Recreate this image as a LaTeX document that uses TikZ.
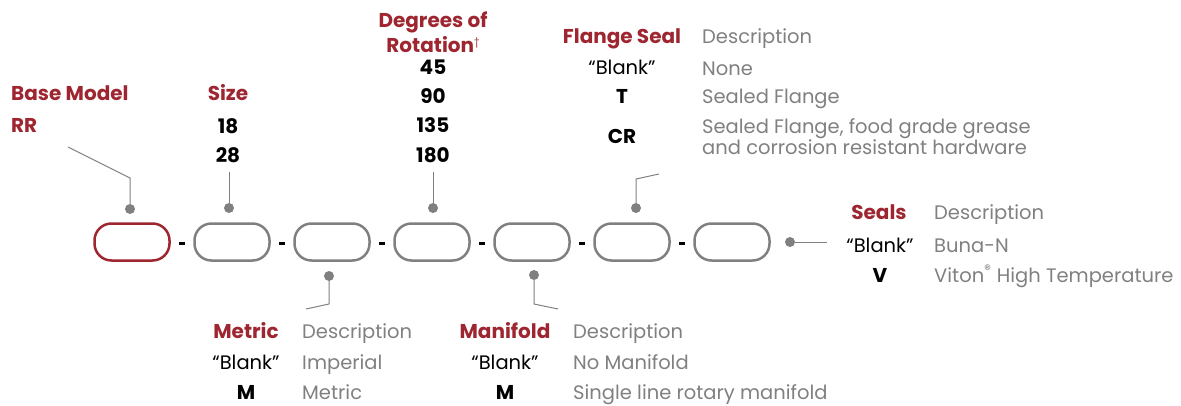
\documentclass[tikz,border=0pt]{standalone}
\usepackage{fontspec}
\setmainfont{Poppins}
\definecolor{codered}{RGB}{158,38,48}
\definecolor{codegray}{RGB}{128,128,128}
\tikzset{
	pill/.style={draw=codegray, line width=2.5pt, rounded corners=17pt, minimum width=75pt, minimum height=37pt},
	hyph/.style={fill=black, inner sep=0pt, minimum width=6pt, minimum height=3pt},
	dot/.style={circle, fill=codegray, inner sep=0pt, minimum size=10pt},
	leader/.style={draw=codegray, line width=1pt},
	head/.style={font=\fontsize{20}{22}\selectfont\bfseries, text=codered, inner sep=0pt, anchor=base},
	val/.style={font=\fontsize{20}{22}\selectfont\bfseries, inner sep=0pt, anchor=base},
	blank/.style={font=\fontsize{19.5}{22}\selectfont, inner sep=0pt, anchor=base},
	desc/.style={font=\fontsize{19.5}{22}\selectfont, text=codegray, inner sep=0pt, anchor=base west},
}

\begin{document}
\begin{tikzpicture}[x=1pt,y=-1pt]
				\useasboundingbox (0,0) rectangle (1181,405);
				% part number boxes
				\node [pill, draw=codered] (p1) at (132,242) {};
				\foreach \i in {2,...,7}
					\node [pill] (p\i) at ({132+100*(\i-1)},242) {};
				\foreach \i in {1,...,6}
					\node [hyph] (h\i) at ({182+100*(\i-1)},243) {};
				% base model
				\node [head, anchor=base west] (basehead) at (11,100) {Base Model};
				\node [head, anchor=base west] (baseval) at (11,132) {RR};
				\node [dot] (dbase) at (130,209) {};
				\coordinate (cbase1) at (130,178);
				\coordinate (cbase2) at (68,147);
				\draw [leader] (dbase) -- (cbase1) -- (cbase2);
				% size
				\node [head] (sizehead) at (228,100) {Size};
				\node [val] (size18) at (228,133) {18};
				\node [val] (size28) at (228,162) {28};
				\node [dot] (dsize) at (229,208) {};
				\coordinate (csize) at (229,172);
				\draw [leader] (dsize) -- (csize);
				% degrees of rotation
				\node [head] (rothead1) at (433,27) {Degrees of};
				\node [head] (rothead2) at (433,52) {Rotation\raisebox{7pt}{\fontsize{10}{10}\selectfont\mdseries\textdagger}};
				\node [val] (rot45) at (433,74) {45};
				\node [val] (rot90) at (433,103) {90};
				\node [val] (rot135) at (433,132) {135};
				\node [val] (rot180) at (433,162) {180};
				\node [dot] (drot) at (433,208) {};
				\coordinate (crot) at (433,172);
				\draw [leader] (drot) -- (crot);
				% flange seal
				\node [head] (flangehead) at (622,43) {Flange Seal};
				\node [desc] (flangedesc) at (702,43) {Description};
				\node [blank] (flangeblank) at (622,74) {“Blank”};
				\node [desc] (flangenone) at (702,75) {None};
				\node [val] (flanget) at (622,103) {T};
				\node [desc] (flangesealed) at (702,103) {Sealed Flange};
				\node [val] (flangecr) at (622,143) {CR};
				\node [desc] (flangecr1) at (702,133) {Sealed Flange, food grade grease};
				\node [desc] (flangecr2) at (702,154) {and corrosion resistant hardware};
				\node [dot] (dflange) at (636,208) {};
				\coordinate (cflange1) at (636,179);
				\coordinate (cflange2) at (659,174);
				\draw [leader] (dflange) -- (cflange1) -- (cflange2);
				% metric
				\node [head] (metrichead) at (246,338) {Metric};
				\node [desc] (metricdesc) at (302,338) {Description};
				\node [blank] (metricblank) at (246,369) {“Blank”};
				\node [desc] (metricimp) at (302,369) {Imperial};
				\node [val] (metricm) at (246,399) {M};
				\node [desc] (metricmet) at (302,399) {Metric};
				\node [dot] (dmetric) at (329,276) {};
				\coordinate (cmetric1) at (329,304);
				\coordinate (cmetric2) at (306,309);
				\draw [leader] (dmetric) -- (cmetric1) -- (cmetric2);
				% manifold
				\node [head] (manihead) at (505,338) {Manifold};
				\node [desc] (manidesc) at (573,338) {Description};
				\node [blank] (maniblank) at (505,369) {“Blank”};
				\node [desc] (manino) at (573,369) {No Manifold};
				\node [val] (manim) at (505,399) {M};
				\node [desc] (manisingle) at (573,399) {Single line rotary manifold};
				\node [dot] (dmani) at (534,275) {};
				\coordinate (cmani1) at (534,304);
				\coordinate (cmani2) at (558,309);
				\draw [leader] (dmani) -- (cmani1) -- (cmani2);
				% seals
				\node [head] (sealhead) at (879,219) {Seals};
				\node [desc] (sealdesc) at (934,219) {Description};
				\node [blank] (sealblank) at (880,252) {“Blank”};
				\node [desc] (sealbuna) at (934,252) {Buna-N};
				\node [val] (sealv) at (880,282) {V};
				\node [desc] (sealviton) at (934,282) {Viton\textsuperscript{\textregistered} High Temperature};
				\node [dot] (dseal) at (790,242) {};
				\coordinate (cseal) at (827,242);
				\draw [leader] (dseal) -- (cseal);
			\end{tikzpicture}
\end{document}
